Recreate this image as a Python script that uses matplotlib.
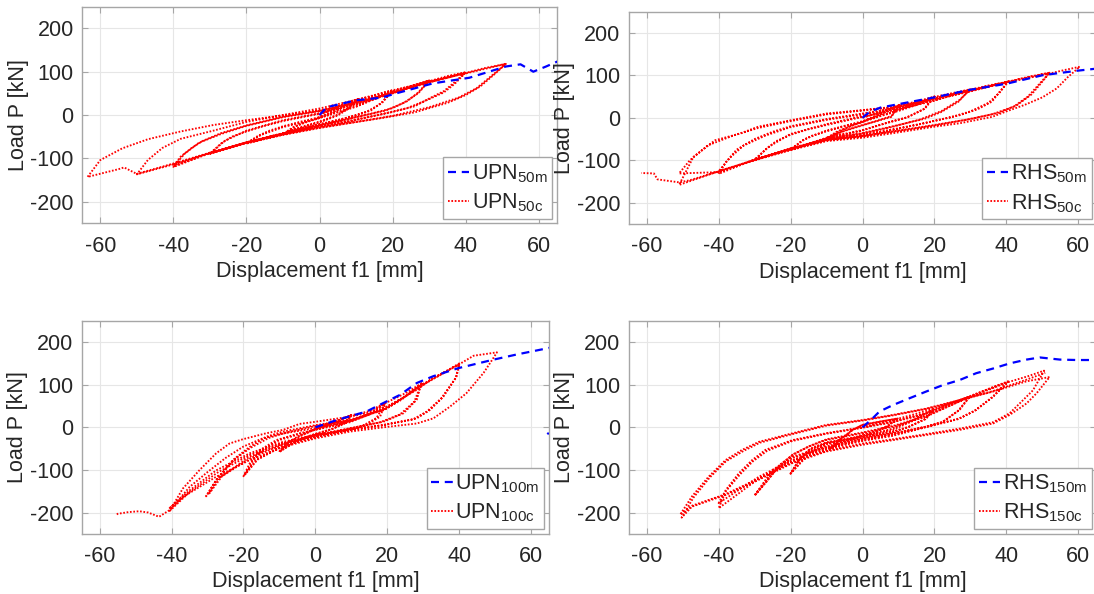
import matplotlib
matplotlib.use("Agg")
import matplotlib.pyplot as plt

plt.rcParams.update(
    {
        "font.family": ["Liberation Sans", "DejaVu Sans"],
        "font.size": 15.5,
        "mathtext.default": "regular",
        "axes.unicode_minus": False,
        "text.color": "#262626",
        "axes.labelcolor": "#262626",
        "xtick.color": "#262626",
        "ytick.color": "#262626",
    }
)

# ---------------- data ----------------
x_ticks = [-60, -40, -20, 0, 20, 40, 60]
y_ticks = [-200, -100, 0, 100, 200]

# UPN 50: monotonic and cyclic (one list per amplitude step, two cycles each)
upn50_mono_x = [0, 2, 10, 17, 21, 31, 41, 51, 55, 58.5, 62, 65.5]
upn50_mono_y = [0, 18, 34, 40, 50, 73, 86, 112, 117, 100, 112, 125]

upn50_c10 = [(0, 0), (3, 12), (6, 23), (10.5, 37), (8, 17), (5, 1), (2, -9), (0, -15), (-4, -25),
             (-9, -38), (-7, -27), (-4, -17), (0, -7), (4, 8), (7, 20), (10.5, 36), (8, 15), (5, -1),
             (0, -17), (-5, -29), (-9, -39), (-6, -24), (-2, -12), (0, -5), (5, 12), (10, 34)]
upn50_c20 = [(15, 45), (20, 57), (17, 29), (14, 10), (10, -1), (5, -12), (0, -21), (-5, -31),
             (-10, -42), (-15, -53), (-20, -65), (-17, -49), (-14, -37), (-10, -26), (-5, -15),
             (0, -5), (5, 8), (10, 21), (15, 36), (20, 56), (17, 27), (13, 8), (8, -5), (0, -22),
             (-10, -44), (-20, -66), (-16, -46), (-10, -28), (0, -7), (10, 19), (20, 55)]
upn50_c30 = [(25, 67), (30, 80), (27, 52), (24, 32), (20, 16), (15, 5), (8, -9), (0, -23),
             (-10, -42), (-20, -63), (-30, -89), (-27, -66), (-24, -50), (-20, -38), (-15, -25),
             (-10, -14), (0, 3), (10, 25), (20, 50), (30, 79), (27, 50), (23, 28), (18, 10),
             (10, -5), (0, -24), (-10, -43), (-20, -64), (-30, -90), (-26, -60), (-20, -36),
             (-10, -12), (0, 4), (10, 26), (20, 51), (30, 78)]
upn50_c40 = [(35, 90), (40, 99), (37, 76), (34, 55), (30, 38), (26, 20), (20, 7), (15, -2),
             (8, -14), (0, -25), (-10, -43), (-20, -63), (-30, -87), (-40, -118), (-38, -96),
             (-35, -76), (-32, -60), (-27, -42), (-20, -24), (-10, -4), (0, 10), (10, 30), (20, 52),
             (30, 76), (40, 98), (37, 72), (34, 52), (29, 33), (24, 16), (17, 2), (8, -15),
             (0, -26), (-10, -44), (-20, -64), (-30, -88), (-40, -120), (-37, -90), (-33, -64),
             (-27, -44), (-20, -25), (-10, -5), (0, 9), (10, 29), (20, 51), (30, 75), (40, 97)]
upn50_c50 = [(45, 108), (51, 118), (48, 95), (44, 66), (40, 46), (35, 28), (26, 6), (17, -7),
             (8, -19), (0, -30), (-10, -46), (-20, -65), (-30, -88), (-40, -114), (-50, -137),
             (-47, -104), (-43, -76), (-38, -55), (-29, -36), (-20, -16), (-10, 0), (0, 15),
             (10, 35), (20, 57), (30, 77), (40, 96), (51, 118), (47, 90), (43, 62), (38, 40),
             (30, 18), (20, -2), (10, -16), (0, -29), (-10, -45), (-20, -64), (-30, -87),
             (-40, -112), (-50, -136), (-53.5, -121), (-55, -125), (-63.5, -143), (-60, -104),
             (-54, -77), (-47, -56), (-38, -38), (-29, -23), (-20, -12), (-10, -1), (0, 10), (5, 18)]

# RHS 50
rhs50_mono_x = [0, 2, 5, 10, 20, 30, 40, 50, 60, 65.5]
rhs50_mono_y = [0, 14, 24, 32, 48, 66, 80, 100, 111, 116]

rhs50_c10 = [(0, 0), (4, 10), (7, 20), (10.4, 30), (8, 2), (4, -8), (0, -17), (-5, -30), (-10, -49),
             (-7, -34), (-4, -22), (0, -10), (5, 8), (10.4, 30), (8, 4), (4, -7), (0, -18),
             (-5, -31), (-10, -48), (-7, -32), (-3, -19), (0, -9), (5, 9), (10, 29)]
rhs50_c20 = [(15, 38), (20, 50), (17.4, 22), (12.8, 2), (8, -9), (0, -29), (-10, -47), (-20, -76),
             (-17, -55), (-14, -42), (-10, -32), (-5, -20), (0, -10), (5, 4), (10, 16), (15, 30),
             (20, 50), (17, 20), (12, 0), (6, -14), (0, -30), (-10, -48), (-20, -74), (-16, -50),
             (-10, -30), (0, -8), (10, 18), (20, 49)]
rhs50_c30 = [(25, 58), (30, 67), (28, 50), (26.7, 38), (22, 14), (17.4, -2), (8, -21), (0, -36),
             (-10, -49), (-20, -72), (-30, -100), (-27, -75), (-24, -55), (-20, -40), (-15, -27),
             (-10, -17), (0, 2), (10, 20), (20, 40), (30, 67), (27, 42), (22, 16), (16, -4),
             (8, -22), (0, -37), (-10, -50), (-20, -73), (-30, -98), (-26, -68), (-20, -38),
             (-10, -15), (0, 4), (10, 22), (20, 42), (30, 66)]
rhs50_c40 = [(35, 76), (40.5, 85), (38, 60), (36, 38), (32, 20), (27, 6), (20, -7), (17, -13),
             (8, -29), (0, -40), (-10, -50), (-20, -73), (-30, -98), (-40, -132), (-38, -105),
             (-35, -75), (-30, -50), (-25, -33), (-20, -20), (-10, -3), (0, 10), (10, 24), (20, 42),
             (30, 62), (40.5, 85), (38, 58), (35, 35), (30, 15), (24, 0), (16, -15), (8, -28),
             (0, -41), (-10, -51), (-20, -74), (-30, -99), (-40, -126), (-37, -95), (-33, -65),
             (-27, -42), (-20, -22), (-10, -5), (0, 8), (10, 23), (20, 43), (30, 63), (40, 84)]
rhs50_c50 = [(46, 96), (52, 106), (50, 85), (47, 55), (43, 30), (38, 12), (30, -3), (20, -17),
             (10, -30), (0, -43), (-10, -52), (-20, -74), (-30, -99), (-40, -126), (-51, -158),
             (-47, -92), (-41, -53), (-34, -37), (-29, -21), (-20, -6), (-10, 10), (0, 18), (10, 27),
             (20, 46), (30, 65), (40, 84), (52, 106), (49, 78), (46, 50), (42, 26), (36, 8),
             (28, -6), (20, -18), (10, -31), (0, -44), (-10, -53), (-20, -75), (-30, -100),
             (-40, -128), (-51, -131), (-48, -100), (-43, -65), (-36, -42), (-29, -24), (-20, -8),
             (-10, 8), (0, 17), (10, 26), (20, 45), (30, 64), (40, 83), (52, 104)]
rhs50_c60 = [(56, 112), (60.4, 120), (57, 95), (54, 69), (50, 48), (45, 30), (40, 15), (36, 2),
             (27, -13), (20, -21), (8, -37), (0, -47), (-10, -55), (-20, -76), (-30, -100),
             (-40, -126), (-48, -147), (-51, -152), (-57, -145), (-58, -131), (-61.5, -130)]

# UPN 100
upn100_mono_x = [0, 5.9, 14.2, 18.9, 23.5, 28.2, 32.8, 39.8, 49.6, 56, 65.4, 67, 66, 64.5]
upn100_mono_y = [0, 17, 37, 57, 76, 104, 120, 139, 159, 171, 187, 190, -6, -16]

upn100_c10 = [(0, 0), (4, 10), (7, 18), (10, 29), (8, 10), (5, -3), (0, -15), (-5, -30),
              (-10, -58), (-8, -38), (-5, -22), (0, -5), (5, 10), (10, 29), (8, 8), (4, -6),
              (0, -16), (-5, -32), (-10, -56), (-7, -33), (-4, -20), (0, -4), (5, 12), (10, 28)]
upn100_c20 = [(15, 38), (19.5, 58), (18, 25), (14.2, 5.5), (9.6, -6), (0, -22), (-9, -42),
              (-16.5, -77), (-20, -115), (-18.3, -85), (-15.5, -54), (-10.9, -30), (-4.4, -14),
              (0, -6), (9.6, 12), (15, 30), (19.5, 58), (17, 22), (13, 3), (8, -9), (0, -23),
              (-9, -44), (-16, -75), (-19.5, -110), (-17.5, -80), (-14.5, -52), (-10, -30),
              (-4, -15), (0, -5), (9, 13), (15, 31), (19.5, 57)]
upn100_c30 = [(25, 80), (29.5, 103), (28.2, 65), (24.5, 33), (18.9, 13), (9.6, -2), (0, -18),
              (-9, -38), (-18.3, -69), (-27.6, -124), (-30.4, -162), (-27.6, -124), (-23, -77),
              (-18.3, -46), (-13.7, -22), (-9, -10), (0, 5), (9.6, 18), (18.9, 40), (24, 65),
              (29.5, 103), (27.5, 60), (23.5, 30), (18, 12), (9, -4), (0, -20), (-9, -40),
              (-18, -72), (-26, -115), (-29.5, -155), (-27, -118), (-22.5, -75), (-18, -48),
              (-13, -25), (-8, -12), (0, 3), (10, 17), (19, 42), (24, 68), (29.5, 100)]
upn100_c40 = [(35, 125), (40, 150), (39.3, 120), (35.6, 72), (31.9, 41), (28.2, 21), (18.9, 5.5),
              (9.6, -5), (0, -18), (-9, -34), (-18.3, -61), (-27.6, -101), (-35, -148),
              (-40.7, -191), (-38, -170), (-35, -140), (-30, -105), (-25, -72), (-20, -45),
              (-15, -27), (-10, -16), (0, -2), (10, 15), (20, 45), (30, 100), (40, 148), (39, 115),
              (35, 68), (31, 37), (27, 18), (18, 4), (9, -7), (0, -20), (-9, -37), (-18, -64),
              (-27, -105), (-35, -152), (-40.5, -196)]
upn100_c50 = [(-36.9, -144), (-32.3, -101), (-27.6, -61), (-23.9, -38), (-20.2, -28), (-13.7, -14),
              (-9, -6), (-4.4, 8), (0, 13), (4.9, 19), (9.6, 25), (14.2, 33), (18.9, 45), (23.5, 65),
              (28.2, 88), (32.8, 116), (39.8, 147), (44, 168), (50.5, 176), (49.6, 164),
              (46.8, 128), (42, 80), (37.5, 49), (32.8, 21), (28.2, 9), (18.9, 0), (9.6, -10),
              (0, -26), (-9, -46), (-18.3, -77), (-27.6, -116), (-36.9, -164), (-40.7, -195),
              (-43.5, -210), (-46.5, -200), (-49, -197), (-52, -199), (-55, -203), (-55.5, -207)]

# RHS 150
rhs150_mono_x = [0, 2.8, 4.7, 8.4, 13, 17.7, 22.3, 27, 31.6, 36.3, 40.9, 45.6, 49.3, 54.9, 59.5, 65.5]
rhs150_mono_y = [0, 21, 37, 52, 68, 84, 99, 111, 127, 138, 150, 159, 164, 159, 158, 158]

rhs150_c10 = [(0, 0), (4, 8), (7, 14), (9.8, 21), (7.4, 5.5), (3.7, -10), (0, -18), (-5.6, -33.6),
              (-9.3, -50), (-6.5, -30), (-2.8, -6), (0, 5.5), (4.7, 13), (9.8, 21), (7, 3),
              (3.5, -11), (0, -19), (-5.5, -35), (-9.3, -52), (-6, -28), (-2.5, -5), (0, 6),
              (5, 14), (9.8, 20)]
rhs150_c20 = [(15, 32), (20, 44), (17.7, 21), (13, 1.6), (8.4, -10), (0, -22), (-10.2, -37.5),
              (-15, -60), (-20, -109), (-17.7, -77), (-14.9, -53), (-10.2, -37.5), (0, -22),
              (8.4, -6), (14, 15), (20, 44), (17.5, 19), (12.5, 0), (8, -12), (0, -24), (-10, -40),
              (-15, -64), (-20, -108), (-17.5, -75), (-14.5, -50), (-10, -35), (0, -20), (8, -4),
              (14, 17), (20, 43)]
rhs150_c30 = [(25, 58), (29.8, 72), (27, 41), (22.3, 13), (17.7, 1.6), (8.4, -14), (0, -26),
              (-10.2, -45), (-19.5, -69), (-25, -100), (-30, -160), (-27, -131), (-23.3, -92),
              (-19.5, -65), (-14.9, -45), (-10.2, -30), (0, -14), (8.4, 1.6), (17.7, 25),
              (29.8, 72), (26.5, 38), (22, 11), (17, 0), (8, -16), (0, -28), (-10, -47),
              (-19.5, -72), (-25, -105), (-29.8, -158), (-26.5, -125), (-23, -88), (-19, -62),
              (-14.5, -43), (-10, -28), (0, -12), (8.4, 3), (17.7, 27), (29.8, 71)]
rhs150_c40 = [(35, 90), (40.5, 107), (36.3, 72), (31.6, 40.6), (27, 21), (17.7, 1.6), (8.4, -18),
              (0, -30), (-10.2, -49), (-19.5, -77), (-28.8, -116), (-40, -178), (-38, -147),
              (-34.4, -108), (-30.7, -77), (-27, -53), (-19.5, -30), (-10.2, -14), (0, 0),
              (8.4, 13), (17.7, 33), (27, 64), (40.5, 108), (36, 70), (31, 38), (26.5, 19),
              (17.5, 0), (8.4, -20), (0, -32), (-10, -51), (-19.5, -80), (-28.8, -120),
              (-40, -190), (-38, -150), (-34, -110), (-30.5, -80), (-26.5, -55), (-19.5, -32),
              (-10, -15), (0, -1), (8.4, 12), (17.7, 32), (27, 62), (40.5, 106)]
rhs150_c50 = [(46, 120), (50.5, 133), (47.4, 87), (43.7, 56), (40.9, 33), (36.3, 12), (27, -3),
              (17.7, -16), (8.4, -28), (0, -38), (-10.2, -55), (-19.5, -82), (-28.8, -120),
              (-38.1, -157), (-47.4, -184), (-50.7, -205), (-47.4, -162), (-42.8, -116),
              (-38.1, -77), (-33.5, -53), (-28.8, -34), (-19.5, -14), (-10.2, 5.5), (0, 17),
              (8.4, 29), (17.7, 44), (27, 64), (36.3, 84), (45.6, 108), (52, 118), (48.4, 80),
              (45.6, 56), (40.9, 29), (36.3, 9), (27, -6), (17.7, -18), (8.4, -30), (0, -41),
              (-10.2, -57), (-19.5, -84), (-28.8, -123), (-38.1, -159), (-47.4, -186),
              (-50.3, -212), (-47, -165), (-42.5, -118), (-38, -80), (-33, -55), (-28.5, -36),
              (-19.5, -16), (-10, 4), (0, 16), (8.4, 28), (17.7, 43), (27, 63), (36.3, 85),
              (45.6, 112), (50.8, 128)]

panels = [
    ("UPN", "50", upn50_mono_x, upn50_mono_y,
     [upn50_c10, upn50_c20, upn50_c30, upn50_c40, upn50_c50]),
    ("RHS", "50", rhs50_mono_x, rhs50_mono_y,
     [rhs50_c10, rhs50_c20, rhs50_c30, rhs50_c40, rhs50_c50, rhs50_c60]),
    ("UPN", "100", upn100_mono_x, upn100_mono_y,
     [upn100_c10, upn100_c20, upn100_c30, upn100_c40, upn100_c50]),
    ("RHS", "150", rhs150_mono_x, rhs150_mono_y,
     [rhs150_c10, rhs150_c20, rhs150_c30, rhs150_c40, rhs150_c50]),
]

# axes boxes in figure fractions (left, bottom, width, height)
boxes = [
    [0.0750, 0.6241, 0.4342, 0.3646],
    [0.5747, 0.6229, 0.4274, 0.3577],
    [0.0747, 0.1013, 0.4272, 0.3586],
    [0.5747, 0.1013, 0.4274, 0.3586],
]

fig = plt.figure(figsize=(10.94, 5.94), dpi=100)

for (name, size, mx, my, loops), box in zip(panels, boxes):
    ax = fig.add_axes(box)
    cx = [p[0] for loop in loops for p in loop]
    cy = [p[1] for loop in loops for p in loop]

    ax.plot(mx, my, color="#0000ff", lw=1.6, linestyle=(0, (3.6, 2.6)),
            label=f"{name}$_{{{size}m}}$", zorder=3)
    ax.plot(cx, cy, color="#ff0000", lw=1.35, linestyle=(0, (0.9, 0.9)),
            label=f"{name}$_{{{size}c}}$", zorder=2)

    ax.set_xlim(-65, 65)
    ax.set_ylim(-250, 250)
    ax.set_xticks(x_ticks)
    ax.set_yticks(y_ticks)
    ax.grid(True, color="#e6e6e6", lw=0.8)
    ax.set_axisbelow(True)
    for s in ax.spines.values():
        s.set_color("#a6a6a6")
        s.set_linewidth(1.0)
    ax.tick_params(direction="in", length=4, top=True, right=True,
                   color="#a6a6a6", labelsize=15.5, pad=6)
    ax.tick_params(axis="x", pad=9)
    ax.set_xlabel("Displacement f1 [mm]", fontsize=15.5, labelpad=3)
    ax.set_ylabel("Load P [kN]", fontsize=15.5, labelpad=1)

    leg = ax.legend(loc="lower right", fontsize=15.5, handlelength=1.0,
                    handletextpad=0.12, borderpad=0.22, labelspacing=0.3,
                    borderaxespad=0.22, fancybox=False, framealpha=1)
    leg.get_frame().set_edgecolor("#a6a6a6")
    leg.get_frame().set_linewidth(1.0)

plt.savefig("out.png", dpi=100)
